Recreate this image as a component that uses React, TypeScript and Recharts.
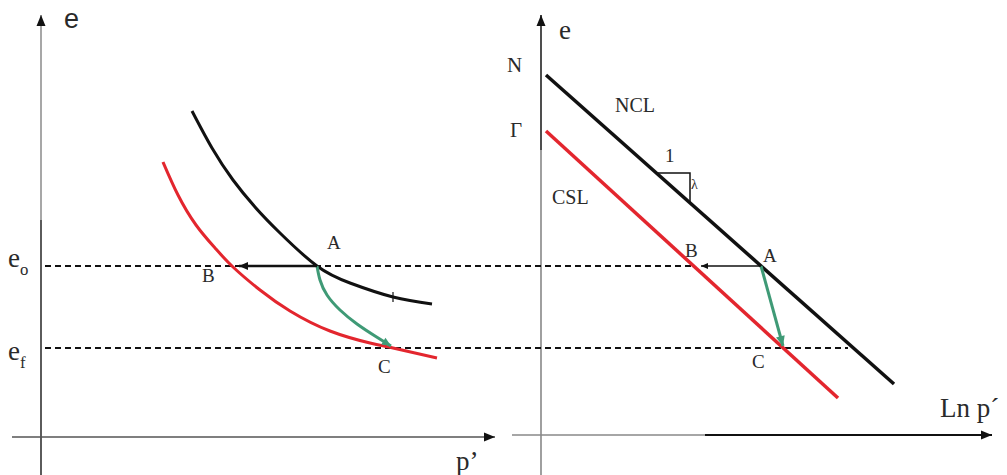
import React from 'react';
import { ComposedChart, Line, Scatter, XAxis, YAxis } from 'recharts';

type Pt = { x: number; e: number };
type Lbl = { x: number; e: number; text: string; sub?: string; kind: string };

// ---- left panel: e versus p' ----
const nclCurve: Pt[] = [
  { x: 15.1, e: 32.6 }, { x: 17.1, e: 28.9 }, { x: 19.2, e: 25.7 }, { x: 21.4, e: 23.0 },
  { x: 23.9, e: 20.4 }, { x: 27.6, e: 17.1 }, { x: 30.9, e: 15.4 }, { x: 35.2, e: 14.0 },
  { x: 39.1, e: 13.3 },
];
const cslCurve: Pt[] = [
  { x: 12.2, e: 27.5 }, { x: 13.7, e: 24.2 }, { x: 15.5, e: 21.2 }, { x: 17.4, e: 18.9 },
  { x: 19.2, e: 17.0 }, { x: 21.9, e: 14.7 }, { x: 24.9, e: 12.6 }, { x: 28.9, e: 10.6 },
  { x: 32.9, e: 9.4 }, { x: 35.2, e: 8.9 }, { x: 39.6, e: 7.9 },
];
const undrainedPathLeft: Pt[] = [
  { x: 27.6, e: 17.1 }, { x: 27.9, e: 15.7 }, { x: 28.6, e: 14.2 }, { x: 29.9, e: 12.7 },
  { x: 31.6, e: 11.3 }, { x: 33.4, e: 10.1 }, { x: 35.0, e: 9.1 },
];
const drainedPathLeft: Pt[] = [{ x: 27.6, e: 17.1 }, { x: 19.8, e: 17.1 }];
const curveTick: Pt[] = [{ x: 35.2, e: 14.5 }, { x: 35.2, e: 13.5 }];

// ---- right panel: e versus ln p' ----
const nclLine: Pt[] = [{ x: 50.5, e: 36.2 }, { x: 85.3, e: 5.3 }];
const cslLine: Pt[] = [{ x: 50.5, e: 30.6 }, { x: 79.7, e: 3.9 }];
const undrainedPathRight: Pt[] = [{ x: 72.0, e: 17.1 }, { x: 74.2, e: 9.1 }];
const drainedPathRight: Pt[] = [{ x: 72.0, e: 17.1 }, { x: 66.0, e: 17.1 }];
const slopeTriangle: Pt[] = [{ x: 61.7, e: 26.4 }, { x: 64.9, e: 26.4 }, { x: 64.9, e: 23.4 }];

// ---- void-ratio guide lines ----
const e0Guide: Pt[] = [{ x: 0.4, e: 17.1 }, { x: 65.0, e: 17.1 }];
const efGuide: Pt[] = [{ x: 0.4, e: 8.9 }, { x: 80.7, e: 8.9 }];

// ---- axes ----
const leftYUpper: Pt[] = [{ x: 0, e: 21.7 }, { x: 0, e: 42.2 }];
const leftYLower: Pt[] = [{ x: 0, e: -3.8 }, { x: 0, e: 21.7 }];
const leftX: Pt[] = [{ x: -2.9, e: 0 }, { x: 45.4, e: 0 }];
const rightYUpper: Pt[] = [{ x: 50.0, e: 28.7 }, { x: 50.0, e: 42.2 }];
const rightYLower: Pt[] = [{ x: 50.0, e: -3.8 }, { x: 50.0, e: 28.7 }];
const rightXLeftPart: Pt[] = [{ x: 47.1, e: 0.2 }, { x: 66.4, e: 0.2 }];
const rightXRightPart: Pt[] = [{ x: 66.4, e: 0.2 }, { x: 95.1, e: 0.2 }];

// ---- text ----
const labels: Lbl[] = [
  { x: 2.3, e: 40.9, text: 'e', kind: 'axisSans' },
  { x: -3.3, e: 17.0, text: 'e', sub: 'o', kind: 'axis' },
  { x: -3.3, e: 7.7, text: 'e', sub: 'f', kind: 'axis' },
  { x: 41.5, e: -3.3, text: 'p\u2019', kind: 'axis' },
  { x: 28.6, e: 18.8, text: 'A', kind: 'point' },
  { x: 16.1, e: 15.5, text: 'B', kind: 'point' },
  { x: 33.7, e: 6.4, text: 'C', kind: 'point' },
  { x: 51.8, e: 39.8, text: 'e', kind: 'axis' },
  { x: 46.6, e: 36.5, text: 'N', kind: 'big' },
  { x: 46.9, e: 30.0, text: '\u0393', kind: 'big' },
  { x: 57.4, e: 32.5, text: 'NCL', kind: 'name' },
  { x: 51.1, e: 23.3, text: 'CSL', kind: 'name' },
  { x: 62.4, e: 27.5, text: '1', kind: 'point' },
  { x: 65.0, e: 24.8, text: '\u03bb', kind: 'small' },
  { x: 64.4, e: 18.0, text: 'B', kind: 'point' },
  { x: 72.2, e: 17.5, text: 'A', kind: 'point' },
  { x: 71.1, e: 6.9, text: 'C', kind: 'point' },
  { x: 89.9, e: 2.0, text: 'Ln p\u00b4', kind: 'axis' },
];

const SERIF = '"Liberation Serif", "DejaVu Serif", serif';
const SANS = '"Liberation Sans", Arial, sans-serif';
const textStyles: Record<string, { size: number; family: string }> = {
  axisSans: { size: 27, family: SANS },
  axis: { size: 27, family: SERIF },
  point: { size: 19, family: SERIF },
  big: { size: 21, family: SERIF },
  name: { size: 20, family: SERIF },
  small: { size: 14, family: SERIF },
};

const BLACK = '#111111';
const RED = '#e3262e';
const GREEN = '#3f9a76';
const GREY = '#8a8a8a';

// Filled arrowhead at the last point of a series, aimed along its final segment.
function arrowHead(pts: Pt[], color: string, len: number, half: number) {
  const last = pts.length - 1;
  return (props: any) => {
    const { cx, cy, index } = props;
    if (index !== last || cx == null || cy == null) return <g key={`d-${index}`} />;
    const a = pts[last - 1];
    const b = pts[last];
    let dx = b.x - a.x;
    let dy = -(b.e - a.e);
    const n = Math.hypot(dx, dy) || 1;
    dx /= n;
    dy /= n;
    const bx = cx - dx * len;
    const by = cy - dy * len;
    const p1 = `${cx},${cy}`;
    const p2 = `${bx - dy * half},${by + dx * half}`;
    const p3 = `${bx + dy * half},${by - dx * half}`;
    return <polygon key={`d-${index}`} points={`${p1} ${p2} ${p3}`} fill={color} stroke="none" />;
  };
}

function renderLabel(props: any) {
  const { cx, cy, payload } = props;
  const st = textStyles[payload.kind];
  return (
    <text x={cx} y={cy} fontFamily={st.family} fontSize={st.size} fill="#2a2a2a">
      {payload.text}
      {payload.sub ? (
        <tspan fontSize={st.size * 0.62} dy={st.size * 0.3}>
          {payload.sub}
        </tspan>
      ) : null}
    </text>
  );
}

const seg = (key: string, data: Pt[], stroke: string, width: number, extra: any = {}) => (
  <Line
    key={key}
    data={data}
    dataKey="e"
    type="linear"
    stroke={stroke}
    strokeWidth={width}
    dot={false}
    activeDot={false}
    isAnimationActive={false}
    {...extra}
  />
);

export default function App() {
  return (
    <div style={{ position: 'absolute', left: 0, top: 0, background: '#fff' }}>
      <ComposedChart width={1007} height={475} margin={{ top: 0, right: 0, bottom: 0, left: 0 }}>
        <XAxis dataKey="x" type="number" domain={[-4.1, 96.6]} allowDataOverflow hide />
        <YAxis type="number" domain={[-3.8, 43.7]} allowDataOverflow hide />

        {/* axes */}
        {seg('lyu', leftYUpper, GREY, 1.5, { dot: arrowHead(leftYUpper, BLACK, 11, 4.5) })}
        {seg('lyl', leftYLower, '#333', 1.6)}
        {seg('lx', leftX, '#555', 1.5, { dot: arrowHead(leftX, BLACK, 11, 4.5) })}
        {seg('ryu', rightYUpper, '#222', 1.6, { dot: arrowHead(rightYUpper, BLACK, 11, 4.5) })}
        {seg('ryl', rightYLower, '#777', 1.4)}
        {seg('rxl', rightXLeftPart, '#888', 1.5)}
        {seg('rxr', rightXRightPart, '#111', 1.8, { dot: arrowHead(rightXRightPart, BLACK, 11, 4.5) })}

        {/* guide lines at e0 and ef */}
        {seg('e0', e0Guide, '#111', 1.8, { strokeDasharray: '6 4' })}
        {seg('ef', efGuide, '#111', 1.8, { strokeDasharray: '6 4' })}

        {/* left panel curves */}
        {seg('ncl', nclCurve, BLACK, 3, { type: 'natural' })}
        {seg('csl', cslCurve, RED, 3, { type: 'natural' })}
        {seg('tick', curveTick, BLACK, 1.2)}
        {seg('gl', undrainedPathLeft, GREEN, 3, { type: 'natural', dot: arrowHead(undrainedPathLeft, GREEN, 9, 4) })}
        {seg('bl', drainedPathLeft, BLACK, 2.5, { dot: arrowHead(drainedPathLeft, BLACK, 9, 4) })}

        {/* right panel lines */}
        {seg('nclL', nclLine, BLACK, 3.5)}
        {seg('cslL', cslLine, RED, 3.5)}
        {seg('tri', slopeTriangle, BLACK, 1.5)}
        {seg('gr', undrainedPathRight, GREEN, 3, { dot: arrowHead(undrainedPathRight, GREEN, 10, 4.5) })}
        {seg('br', drainedPathRight, BLACK, 1.6, { dot: arrowHead(drainedPathRight, BLACK, 7, 3) })}

        <Scatter data={labels} dataKey="e" isAnimationActive={false} shape={renderLabel} />
      </ComposedChart>
    </div>
  );
}
